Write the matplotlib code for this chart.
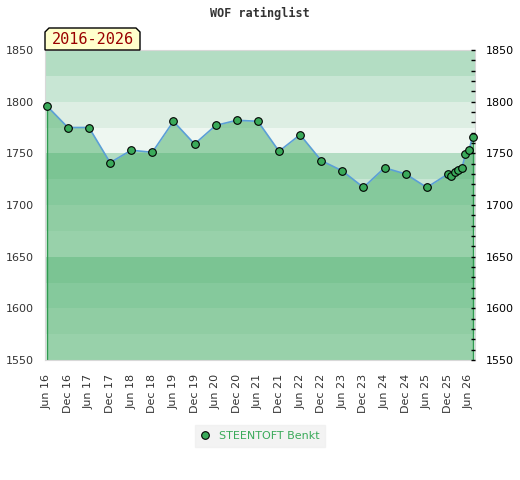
import matplotlib
matplotlib.use("Agg")
import matplotlib.pyplot as plt
from matplotlib.patches import Polygon
from matplotlib.ticker import MultipleLocator

# rating history (month, rating)
dates = ["2016-06", "2016-12", "2017-06", "2017-12", "2018-06", "2018-12",
         "2019-06", "2019-12", "2020-06", "2020-12", "2021-06", "2021-12",
         "2022-06", "2022-12", "2023-06", "2023-12", "2024-06", "2024-12",
         "2025-06", "2025-12", "2026-01", "2026-02", "2026-03", "2026-04",
         "2026-05", "2026-06", "2026-07"]
ratings = [1796, 1775, 1775, 1741, 1753, 1751, 1781, 1759, 1777, 1782,
           1781, 1752, 1768, 1743, 1733, 1717, 1736, 1730, 1717, 1730,
           1728, 1732, 1734, 1736, 1749, 1753, 1766]
tick_labels = ["Jun 16", "Dec 16", "Jun 17", "Dec 17", "Jun 18", "Dec 18",
               "Jun 19", "Dec 19", "Jun 20", "Dec 20", "Jun 21", "Dec 21",
               "Jun 22", "Dec 22", "Jun 23", "Dec 23", "Jun 24", "Dec 24",
               "Jun 25", "Dec 25", "Jun 26"]
player = "STEENTOFT Benkt"
period = "2016-2026"
title = "WOF ratinglist"


def month_index(s):
    y, m = s.split("-")
    return (int(y) - 2016) * 12 + int(m) - 6


x = [month_index(d) for d in dates]
ymin, ymax = 1550, 1850

fig = plt.figure(figsize=(5.2, 4.8), dpi=100)
ax = fig.add_axes([45 / 520, 1 - 360 / 480, 430 / 520, 310 / 480])
ax.set_xlim(-0.5, 121.7)
ax.set_ylim(ymin, ymax)

# background bands, 25 points each, repeating every 100
band_colors = ["#eef7f1", "#ddeee3", "#c8e6d4", "#b3ddc3"]
for i, lo in enumerate(range(ymin, ymax, 25)):
    ax.axhspan(lo, lo + 25, color=band_colors[i % 4], lw=0, zorder=0)

ax.fill_between(x, ratings, ymin, color="#44ad65", alpha=0.5, lw=0, zorder=1)
ax.plot([x[0], x[0]], [ymin, ratings[0]], color="#2f9a50", lw=1, zorder=2)
ax.plot([x[-1], x[-1]], [ymin, ratings[-1]], color="#2f9a50", lw=1, zorder=2)
ax.plot(x, ratings, color="#5b9fd6", lw=1.2, zorder=3)
ax.plot(x, ratings, ls="none", marker="o", ms=5.5, mfc="#3aaa5a", mec="black",
        mew=0.8, zorder=4, clip_on=False)

ax.set_xticks(list(range(0, 121, 6)))
ax.set_xticklabels(tick_labels, rotation=90, fontsize=8, color="#333333")
ax.set_yticks(list(range(ymin, ymax + 1, 50)))
ax.tick_params(axis="both", length=0, labelsize=8, labelcolor="#333333", pad=8)
ax.tick_params(axis="x", pad=10)
for sp in ax.spines.values():
    sp.set_color("#d8d8d8")

ax2 = ax.twinx()
ax2.set_ylim(ymin, ymax)
ax2.set_yticks(list(range(ymin, ymax + 1, 50)))
ax2.yaxis.set_minor_locator(MultipleLocator(10))
ax2.tick_params(axis="y", which="both", direction="in", length=3, width=1,
                labelsize=8, labelcolor="black", pad=8)
for sp in ax2.spines.values():
    sp.set_visible(False)

fig.text(0.5, 1 - 13 / 480, title, ha="center", va="center", fontsize=8.5,
         family="DejaVu Sans Mono", weight="bold", color="#333333")

# period tag with cut corners
x0, x1, y0, y1, c = 45, 140, 50, 28, 4
pts = [(x0, y0), (x0, y1 + c), (x0 + c, y1), (x1 - c, y1), (x1, y1 + c), (x1, y0)]
tag = Polygon([(px / 520, 1 - py / 480) for px, py in pts], closed=True,
              transform=fig.transFigure, fc="#ffffcc", ec="black", lw=1, zorder=5)
fig.patches.append(tag)
fig.text(92.5 / 520, 1 - 39.5 / 480, period, ha="center", va="center", fontsize=11,
         family="DejaVu Sans Mono", color="#990000", zorder=6)

leg = ax.legend([ax.lines[-1]], [player], loc="center", bbox_to_anchor=(260 / 520, 1 - 436 / 480),
                bbox_transform=fig.transFigure, frameon=True, fontsize=8, handlelength=0.8,
                handletextpad=0.8, borderpad=0.5, fancybox=False)
leg.get_frame().set_facecolor("#f0f0f0")
leg.get_frame().set_edgecolor("#f0f0f0")
for t in leg.get_texts():
    t.set_color("#3aaa5a")

fig.savefig("out.png", dpi=100)
